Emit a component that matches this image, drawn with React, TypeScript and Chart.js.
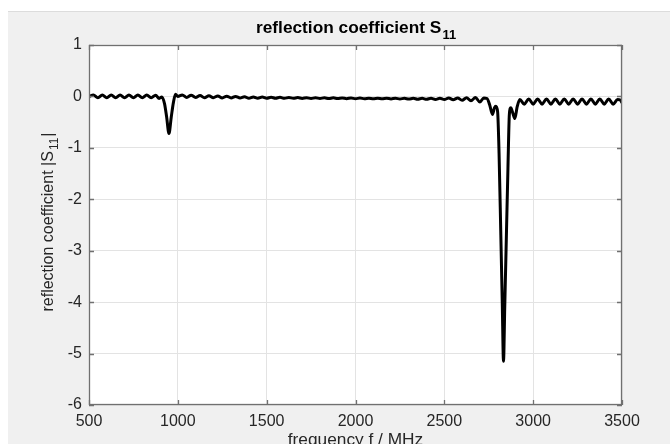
import { useEffect, useRef } from "react";
import { Chart, registerables } from "chart.js";

Chart.register(...registerables);

// ---- data ----
const freqMHz = [
  500, 525, 550, 575, 600, 625, 650, 675, 700, 725, 750, 775, 800, 825, 850, 875,
  895, 910, 925, 937, 950, 963, 975, 987, 1000,
  1025, 1050, 1075, 1100, 1125, 1150, 1175, 1200, 1225, 1250, 1275, 1300, 1325, 1350, 1375, 1400,
  1425, 1450, 1475, 1500, 1525, 1550, 1575, 1600, 1625, 1650, 1675, 1700, 1725, 1750, 1775, 1800,
  1825, 1850, 1875, 1900, 1925, 1950, 1975, 2000, 2025, 2050, 2075, 2100, 2125, 2150, 2175, 2200,
  2225, 2250, 2275, 2300, 2325, 2350, 2375, 2400, 2425, 2450, 2475, 2500,
  2525, 2550, 2575, 2600, 2625, 2650, 2675, 2700, 2722, 2740, 2755, 2771, 2782, 2790,
  2800, 2808, 2818, 2826, 2833, 2840, 2850, 2858, 2866, 2874, 2886, 2897, 2910, 2925,
  2950, 2975, 3000, 3025, 3050, 3075, 3100, 3125, 3150, 3175, 3200, 3225, 3250, 3275, 3300,
  3325, 3350, 3375, 3400, 3425, 3450, 3475, 3490, 3500,
];

const s11 = [
  0.0, 0.03, -0.025, 0.03, -0.025, 0.03, -0.025, 0.03, -0.025, 0.03, -0.025, 0.03, -0.025, 0.03, -0.025, 0.025,
  -0.04, -0.01, -0.14, -0.4, -0.72, -0.4, -0.12, 0.04, 0.0,
  0.03, -0.02, 0.025, -0.02, 0.02, -0.025, 0.015, -0.025, 0.01, -0.03, 0.005, -0.03, 0.0, -0.03, -0.005, -0.035,
  -0.01, -0.035, -0.012, -0.035, -0.015, -0.035, -0.018, -0.037, -0.02, -0.037, -0.022, -0.038, -0.024, -0.04, -0.026, -0.04,
  -0.027, -0.041, -0.028, -0.042, -0.03, -0.043, -0.031, -0.044, -0.032, -0.045, -0.033, -0.046, -0.034, -0.047, -0.035, -0.048,
  -0.036, -0.05, -0.036, -0.052, -0.036, -0.054, -0.036, -0.056, -0.035, -0.058, -0.034, -0.06,
  -0.03, -0.065, -0.03, -0.075, -0.025, -0.085, -0.02, -0.11, -0.03, -0.04, -0.16, -0.35, -0.22, -0.19,
  -0.3, -1.1, -2.7, -4.0, -5.15, -4.1, -2.6, -1.4, -0.35, -0.22, -0.33, -0.43, -0.2, -0.06,
  -0.15, -0.05, -0.15, -0.05, -0.15, -0.05, -0.15, -0.05, -0.15, -0.05, -0.15, -0.05, -0.15, -0.05, -0.15,
  -0.05, -0.15, -0.05, -0.15, -0.05, -0.15, -0.06, -0.07, -0.12,
];

const xTickValues = [500, 1000, 1500, 2000, 2500, 3000, 3500];
const yTickValues = [1, 0, -1, -2, -3, -4, -5, -6];

const titleText = "reflection coefficient S";
const titleSub = "11";
const xLabelText = "frequency f / MHz";
const yLabelText = "reflection coefficient |S";
const yLabelSub = "11";
const yLabelEnd = "|";

const FONT = '"Liberation Sans", Arial, Helvetica, sans-serif';
const TEXT_COLOR = "#262626";

const framePlugin = {
  id: "matlabFrame",
  beforeDraw(chart: any) {
    const { ctx, chartArea: a, width, height } = chart;
    ctx.save();
    ctx.fillStyle = "#ffffff";
    ctx.fillRect(0, 0, width, height);
    ctx.fillStyle = "#f0f0f0";
    ctx.fillRect(8, 11, width - 8, height - 11);
    ctx.strokeStyle = "#dcdcdc";
    ctx.lineWidth = 1;
    ctx.beginPath();
    ctx.moveTo(8, 11.5);
    ctx.lineTo(width, 11.5);
    ctx.stroke();
    ctx.fillStyle = "#ffffff";
    ctx.fillRect(a.left, a.top, a.right - a.left, a.bottom - a.top);
    ctx.restore();
  },
  afterDraw(chart: any) {
    const { ctx, chartArea: a } = chart;
    const xs = chart.scales.x;
    const ys = chart.scales.y;
    ctx.save();
    // axes box
    ctx.strokeStyle = "#707070";
    ctx.lineWidth = 1.3;
    ctx.strokeRect(a.left + 0.5, a.top + 0.5, a.right - a.left - 1, a.bottom - a.top - 1);
    // inward ticks
    ctx.beginPath();
    const tl = 5;
    xTickValues.forEach((v) => {
      const px = Math.round(xs.getPixelForValue(v)) + 0.5;
      ctx.moveTo(px, a.bottom);
      ctx.lineTo(px, a.bottom - tl);
      ctx.moveTo(px, a.top);
      ctx.lineTo(px, a.top + tl);
    });
    yTickValues.forEach((v) => {
      const py = Math.round(ys.getPixelForValue(v)) + 0.5;
      ctx.moveTo(a.left, py);
      ctx.lineTo(a.left + tl, py);
      ctx.moveTo(a.right, py);
      ctx.lineTo(a.right - tl, py);
    });
    ctx.stroke();

    const cx = (a.left + a.right) / 2;
    const cy = (a.top + a.bottom) / 2;
    const sx = 1.08;

    // title with subscript
    ctx.fillStyle = "#000000";
    ctx.textBaseline = "alphabetic";
    ctx.textAlign = "left";
    ctx.font = `bold 16px ${FONT}`;
    const w1 = ctx.measureText(titleText).width;
    ctx.font = `bold 12px ${FONT}`;
    const w2 = ctx.measureText(titleSub).width;
    ctx.save();
    ctx.translate(cx, 0);
    ctx.scale(sx, 1);
    const tx = -(w1 + w2) / 2;
    ctx.font = `bold 16px ${FONT}`;
    ctx.fillText(titleText, tx, 33);
    ctx.font = `bold 12px ${FONT}`;
    ctx.fillText(titleSub, tx + w1 + 1, 39);
    ctx.restore();

    // x label
    ctx.fillStyle = TEXT_COLOR;
    ctx.save();
    ctx.translate(cx, 445);
    ctx.scale(sx, 1);
    ctx.font = `16px ${FONT}`;
    ctx.textAlign = "center";
    ctx.fillText(xLabelText, 0, 0);
    ctx.restore();

    // y label with subscript
    ctx.save();
    ctx.translate(53, cy - 3);
    ctx.rotate(-Math.PI / 2);
    ctx.textAlign = "left";
    ctx.font = `16px ${FONT}`;
    const y1 = ctx.measureText(yLabelText).width;
    const y3 = ctx.measureText(yLabelEnd).width;
    ctx.font = `12px ${FONT}`;
    const y2 = ctx.measureText(yLabelSub).width;
    const start = -(y1 + y2 + y3 + 2) / 2;
    ctx.font = `16px ${FONT}`;
    ctx.fillText(yLabelText, start, 0);
    ctx.font = `12px ${FONT}`;
    ctx.fillText(yLabelSub, start + y1 + 1, 5);
    ctx.font = `16px ${FONT}`;
    ctx.fillText(yLabelEnd, start + y1 + y2 + 2, 0);
    ctx.restore();

    ctx.restore();
  },
};

export default function App() {
  const canvasRef = useRef<HTMLCanvasElement | null>(null);

  useEffect(() => {
    const canvas = canvasRef.current;
    if (!canvas) return;
    const points = freqMHz.map((f, i) => ({ x: f, y: s11[i] }));
    const chart = new Chart(canvas, {
      type: "line",
      data: {
        datasets: [
          {
            data: points,
            borderColor: "#000000",
            borderWidth: 3,
            pointRadius: 0,
            fill: false,
            cubicInterpolationMode: "monotone",
          },
        ],
      },
      options: {
        responsive: false,
        animation: false,
        devicePixelRatio: 1,
        layout: { padding: { left: 0, top: 45, right: 48, bottom: 0 } },
        plugins: {
          legend: { display: false },
          tooltip: { enabled: false },
          title: { display: false },
        },
        scales: {
          x: {
            type: "linear",
            min: 500,
            max: 3500,
            afterBuildTicks: (scale: any) => {
              scale.ticks = xTickValues.map((v) => ({ value: v }));
            },
            afterFit: (scale: any) => {
              scale.height = 39;
            },
            grid: { color: "#e3e3e3", lineWidth: 1, drawTicks: false },
            border: { display: false },
            ticks: {
              padding: 7,
              color: TEXT_COLOR,
              font: { family: FONT, size: 16 },
              maxRotation: 0,
              autoSkip: false,
              callback: (v: any) => String(v),
            },
          },
          y: {
            type: "linear",
            min: -6,
            max: 1,
            afterBuildTicks: (scale: any) => {
              scale.ticks = yTickValues.map((v) => ({ value: v }));
            },
            afterFit: (scale: any) => {
              scale.width = 89;
            },
            grid: { color: "#e3e3e3", lineWidth: 1, drawTicks: false },
            border: { display: false },
            ticks: {
              padding: 7,
              color: TEXT_COLOR,
              font: { family: FONT, size: 16 },
              autoSkip: false,
              callback: (v: any) => String(v),
            },
          },
        },
      },
      plugins: [framePlugin],
    } as any);
    return () => chart.destroy();
  }, []);

  return (
    <div style={{ position: "absolute", left: 0, top: 0, width: 670, height: 444 }}>
      <canvas ref={canvasRef} width={670} height={444} style={{ display: "block", width: 670, height: 444 }} />
    </div>
  );
}
